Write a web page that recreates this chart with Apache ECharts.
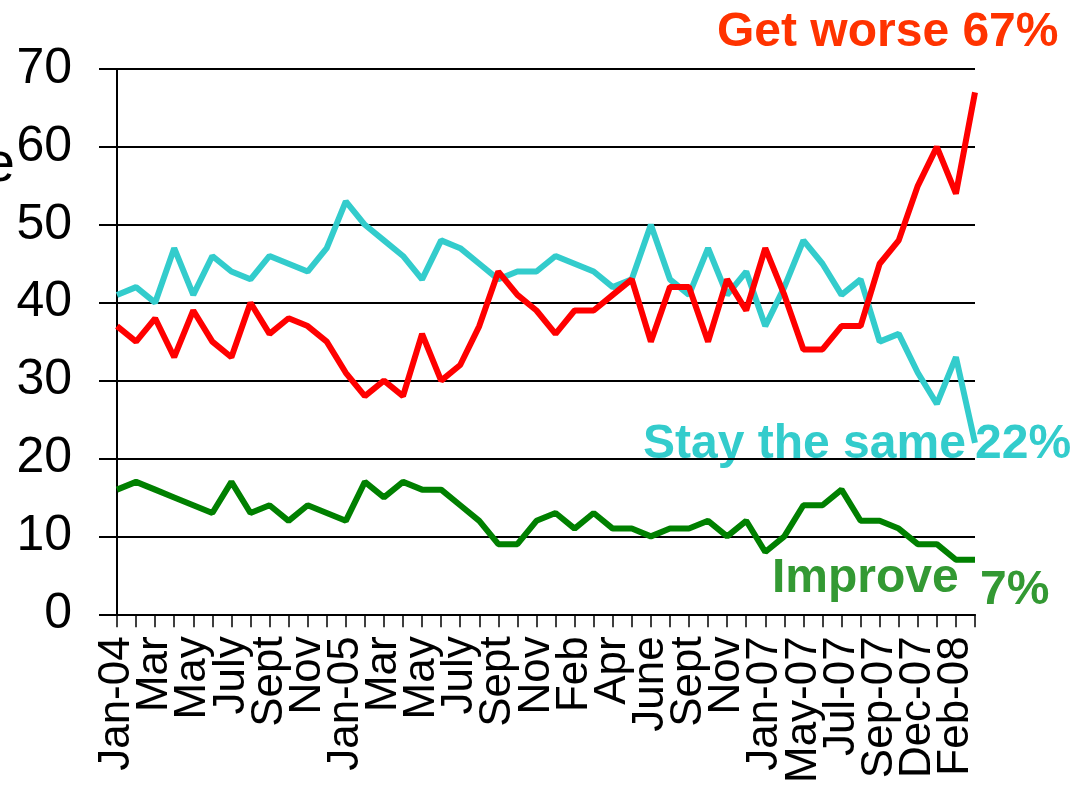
<!DOCTYPE html>
<html>
<head>
<meta charset="utf-8">
<script src="https://cdn.jsdelivr.net/npm/echarts@6/dist/echarts.min.js"></script>
<style>
  html, body { margin: 0; padding: 0; background: #fff; }
  #main { width: 1073px; height: 786px; }
</style>
</head>
<body>
<div id="main"></div>
<script>
// survey months, a label is shown on every second one
var months = ['Jan-04', 'Feb', 'Mar', 'Apr', 'May', 'June', 'July', 'Aug', 'Sept', 'Oct', 'Nov', 'Dec',
  'Jan-05', 'Feb', 'Mar', 'Apr', 'May', 'June', 'July', 'Aug', 'Sept', 'Oct', 'Nov', 'Jan-06',
  'Feb', 'Mar', 'Apr', 'May', 'June', 'July', 'Sept', 'Oct', 'Nov', 'Dec', 'Jan-07', 'Mar-07',
  'May-07', 'Jun-07', 'Jul-07', 'Aug-07', 'Sep-07', 'Oct-07', 'Dec-07', 'Jan-08', 'Feb-08', 'Mar-08'];

var getWorse = [37, 35, 38, 33, 39, 35, 33, 40, 36, 38, 37, 35, 31, 28, 30, 28, 36, 30, 32, 37, 44, 41, 39,
  36, 39, 39, 41, 43, 35, 42, 42, 35, 43, 39, 47, 41, 34, 34, 37, 37, 45, 48, 55, 60, 54, 67];
var staySame = [41, 42, 40, 47, 41, 46, 44, 43, 46, 45, 44, 47, 53, 50, 48, 46, 43, 48, 47, 45, 43, 44, 44,
  46, 45, 44, 42, 43, 50, 43, 41, 47, 41, 44, 37, 42, 48, 45, 41, 43, 35, 36, 31, 27, 33, 22];
var improve = [16, 17, 16, 15, 14, 13, 17, 13, 14, 12, 14, 13, 12, 17, 15, 17, 16, 16, 14, 12, 9, 9, 12,
  13, 11, 13, 11, 11, 10, 11, 11, 12, 10, 12, 8, 10, 14, 14, 16, 12, 12, 11, 9, 9, 7, 7];

var yTicks = [0, 10, 20, 30, 40, 50, 60, 70];

var font = 'Liberation Sans, Arial, Helvetica, sans-serif';

var dom = document.getElementById('main');
var myChart = echarts.init(dom, null, { renderer: 'canvas' });

var option = {
  animation: false,
  backgroundColor: '#fff',
  grid: { left: 117, right: 98, top: 69, bottom: 169 },
  xAxis: {
    type: 'category',
    data: months,
    boundaryGap: false,
    axisLine: { lineStyle: { color: '#000', width: 2 } },
    axisTick: { show: true, interval: 0, length: 13, lineStyle: { color: '#000', width: 1.5 } },
    axisLabel: {
      // all labels kept (no min/max hiding), odd months left blank
      interval: 0,
      formatter: function (value, i) { return i % 2 === 0 ? value : ''; },
      rotate: 90,
      margin: 22,
      color: '#000',
      fontSize: 44,
      fontFamily: font
    },
    splitLine: { show: false }
  },
  yAxis: {
    type: 'value',
    min: yTicks[0],
    max: yTicks[yTicks.length - 1],
    interval: 10,
    axisLine: { show: true, lineStyle: { color: '#000', width: 2 } },
    axisTick: { show: true, length: 18, lineStyle: { color: '#000', width: 2 } },
    axisLabel: { color: '#000', fontSize: 50, margin: 45, fontFamily: font },
    splitLine: { lineStyle: { color: '#000', width: 2 } }
  },
  series: [
    {
      name: 'Stay the same',
      type: 'line',
      data: staySame,
      showSymbol: false,
      lineStyle: { color: '#33cccc', width: 6 }
    },
    {
      name: 'Get worse',
      type: 'line',
      data: getWorse,
      showSymbol: false,
      lineStyle: { color: '#ff0000', width: 6 }
    },
    {
      name: 'Improve',
      type: 'line',
      data: improve,
      showSymbol: false,
      lineStyle: { color: '#008000', width: 6 }
    }
  ],
  graphic: [
    { type: 'text', left: 717, top: 9,
      style: { text: 'Get worse 67%', fill: '#ff3300', font: 'bold 48px ' + font } },
    { type: 'text', left: 643, top: 421,
      style: { text: 'Stay the same', fill: '#33cccc', font: 'bold 48px ' + font } },
    { type: 'text', left: 975, top: 421,
      style: { text: '22%', fill: '#33cccc', font: 'bold 48px ' + font } },
    { type: 'text', left: 772, top: 555,
      style: { text: 'Improve', fill: '#339933', font: 'bold 48px ' + font } },
    { type: 'text', left: 980, top: 567,
      style: { text: '7%', fill: '#339933', font: 'bold 48px ' + font } },
    { type: 'text', right: 1058, top: 138,
      style: { text: 'Percentage', fill: '#000', font: '56px ' + font } }
  ]
};

myChart.setOption(option);
window.addEventListener('resize', myChart.resize);
</script>
</body>
</html>
